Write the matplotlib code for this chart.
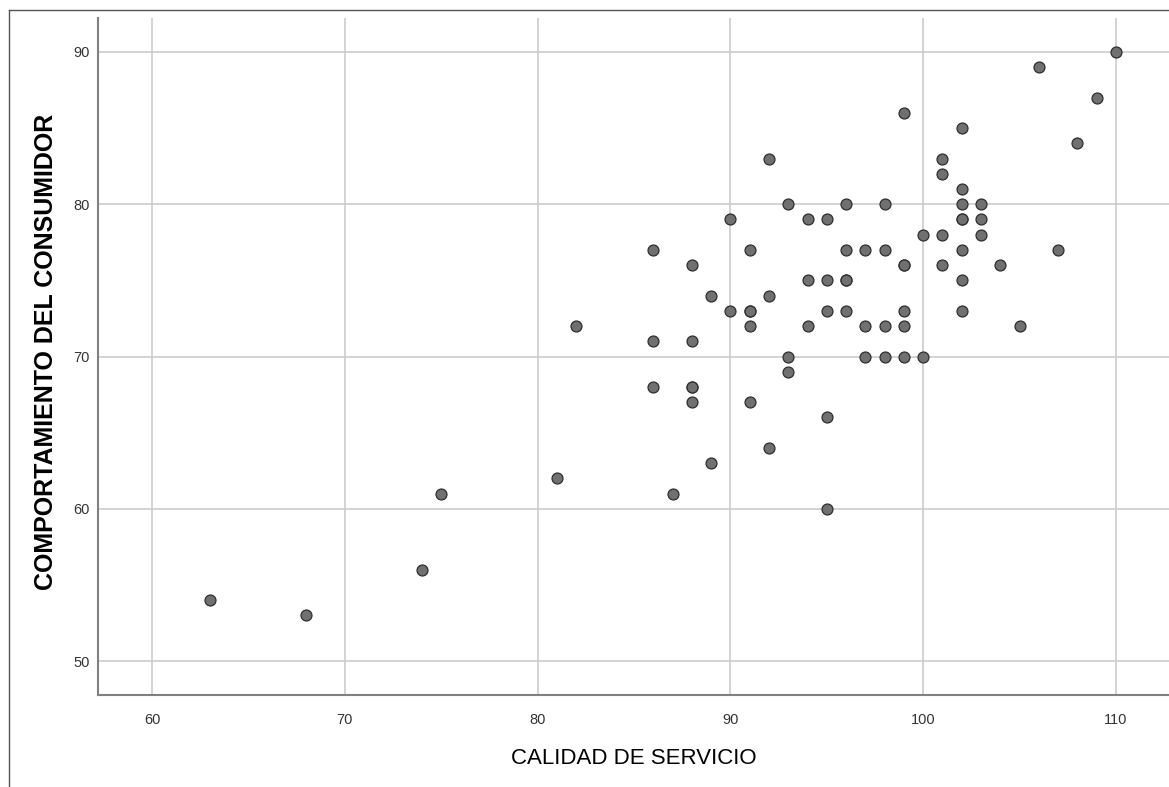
import matplotlib.pyplot as plt
from matplotlib.lines import Line2D

# Datos
calidad = [63, 68, 74, 75, 81, 82,
           86, 86, 86, 87,
           88, 88, 88, 88, 88,
           89, 89, 90, 90,
           91, 91, 91, 91, 91,
           92, 92, 92, 93, 93, 93,
           94, 94, 94,
           95, 95, 95, 95, 95,
           96, 96, 96, 96, 96,
           97, 97, 97,
           98, 98, 98, 98,
           99, 99, 99, 99, 99, 99,
           100, 100,
           101, 101, 101, 101,
           102, 102, 102, 102, 102, 102, 102, 102,
           103, 103, 103,
           104, 105, 106, 107, 108, 109, 110]
comportamiento = [54, 53, 56, 61, 62, 72,
                  77, 71, 68, 61,
                  76, 71, 68, 68, 67,
                  74, 63, 79, 73,
                  77, 73, 73, 72, 67,
                  83, 74, 64, 80, 70, 69,
                  79, 75, 72,
                  79, 75, 73, 66, 60,
                  80, 77, 75, 75, 73,
                  77, 72, 70,
                  80, 77, 72, 70,
                  86, 76, 76, 73, 72, 70,
                  78, 70,
                  83, 82, 78, 76,
                  85, 81, 80, 79, 79, 77, 75, 73,
                  80, 79, 78,
                  76, 72, 89, 77, 84, 87, 90]
xticks = [60, 70, 80, 90, 100, 110]
yticks = [50, 60, 70, 80, 90]

plt.rcParams['font.family'] = ['Liberation Sans', 'DejaVu Sans']

fig = plt.figure(figsize=(11.69, 7.87), dpi=100)
ax = fig.add_axes([98 / 1169, 1 - 695 / 787, 1 - 98 / 1169, (695 - 18) / 787])

ax.scatter(calidad, comportamiento, s=62, color='#707070', edgecolors='#2e2e2e',
           linewidths=0.9, zorder=3)

ax.set_xlim(57.2, 112.75)
ax.set_ylim(47.77, 92.23)
ax.set_xticks(xticks)
ax.set_yticks(yticks)
ax.grid(True, color='#cccccc', linewidth=1.2, zorder=0)
ax.tick_params(length=0, labelsize=10.5, labelcolor='#333333')
ax.tick_params(axis='x', pad=13)
ax.tick_params(axis='y', pad=6)

for side in ['top', 'right']:
    ax.spines[side].set_visible(False)
for side in ['left', 'bottom']:
    ax.spines[side].set_color('#808080')
    ax.spines[side].set_linewidth(1.5)

# Etiquetas de los ejes
fig.text(634 / 1169, 1 - 759 / 787, "CALIDAD DE SERVICIO", fontsize=16,
         ha='center', va='center', color='black')
fig.text(46 / 1169, 1 - 352 / 787, "COMPORTAMIENTO DEL CONSUMIDOR", fontsize=18,
         fontweight='bold', rotation=90, ha='center', va='center', color='black')

# Marco exterior
fig.add_artist(Line2D([8.5 / 1169, 8.5 / 1169], [0, 1 - 10 / 787],
                      transform=fig.transFigure, color='#555555', linewidth=1))
fig.add_artist(Line2D([8.5 / 1169, 1], [1 - 10 / 787, 1 - 10 / 787],
                      transform=fig.transFigure, color='#555555', linewidth=1))

fig.savefig('out.png', dpi=100)
